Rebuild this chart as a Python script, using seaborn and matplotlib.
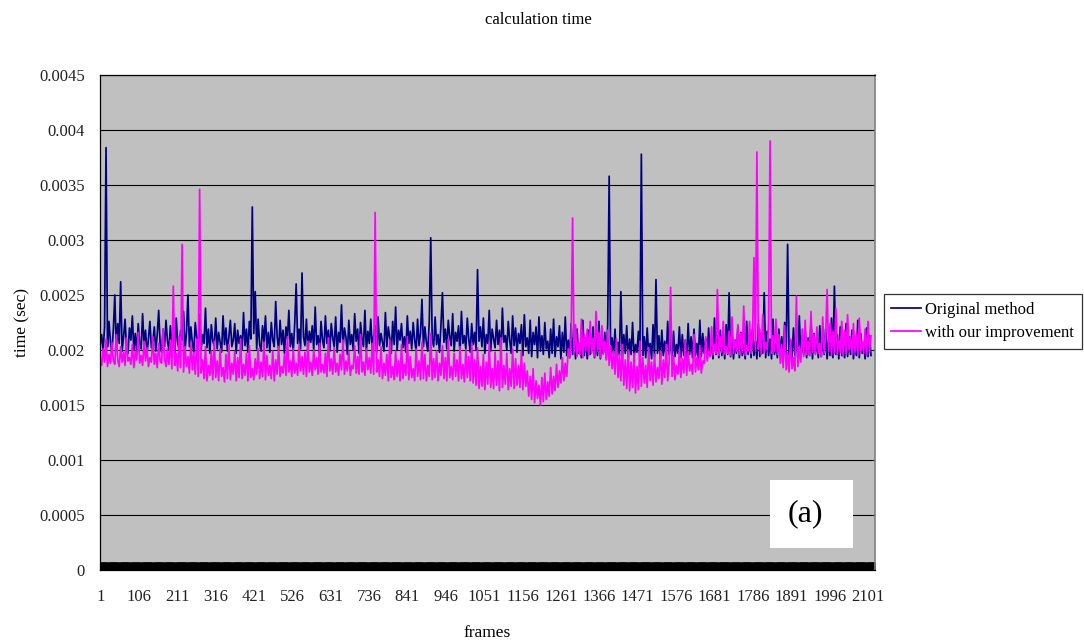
import numpy as np
import pandas as pd
import matplotlib
matplotlib.use("Agg")
import matplotlib.pyplot as plt
from matplotlib.patches import Rectangle
from matplotlib.ticker import FixedLocator, MultipleLocator, FuncFormatter
import seaborn as sns

# frame index (sampled every 4 frames) and times in units of 1e-5 sec
frames = np.arange(1, 2110, 4)

original = [
    205, 214, 199, 221, 384, 203, 226, 208, 197, 219, 250, 201, 224, 206, 262, 199,
    212, 228, 203, 197, 220, 209, 231, 200, 215, 198, 224, 206, 201, 233, 204, 218,
    197, 210, 226, 202, 207, 221, 199, 214, 236, 205, 198, 219, 203, 227, 208, 200,
    222, 204, 213, 197, 229, 206, 201, 218, 209, 235, 199, 216, 250, 203, 221, 207,
    198, 225, 211, 203, 232, 200, 214, 206, 238, 202, 219, 197, 223, 208, 204, 229,
    201, 216, 207, 198, 231, 205, 220, 199, 212, 227, 203, 209, 224, 197, 218, 206,
    213, 200, 234, 204, 219, 198, 226, 210, 330, 215, 253, 201, 228, 205, 199, 222,
    207, 231, 202, 216, 198, 225, 209, 203, 244, 212, 200, 227, 205, 218, 197, 221,
    210, 236, 203, 215, 199, 224, 260, 206, 219, 201, 270, 212, 204, 228, 198, 217,
    207, 222, 200, 239, 205, 213, 197, 226, 209, 202, 231, 206, 218, 199, 224, 211,
    203, 230, 198, 216, 207, 241, 201, 220, 212, 196, 227, 205, 214, 200, 233, 208,
    219, 197, 225, 210, 203, 236, 199, 217, 206, 228, 201, 213, 222, 198, 230, 204,
    215, 207, 199, 234, 203, 221, 211, 197, 226, 205, 239, 200, 218, 209, 224, 202,
    212, 198, 231, 206, 217, 201, 225, 209, 199, 228, 204, 215, 246, 203, 221, 207,
    199, 226, 302, 210, 203, 230, 205, 214, 198, 223, 252, 207, 219, 201, 227, 212,
    204, 233, 199, 216, 208, 222, 197, 235, 206, 213, 201, 229, 210, 198, 224, 205,
    216, 200, 273, 208, 221, 203, 229, 197, 214, 206, 236, 199, 219, 210, 202, 227,
    205, 218, 196, 238, 207, 213, 200, 226, 209, 197, 231, 204, 220, 198, 215, 206,
    223, 195, 232, 203, 211, 197, 227, 194, 216, 205, 221, 193, 230, 199, 213, 196,
    225, 201, 208, 193, 219, 197, 228, 194, 212, 203, 222, 192, 216, 198, 230, 195,
    209, 193, 224, 196, 214, 192, 219, 197, 206, 193, 227, 195, 211, 192, 218, 196,
    203, 221, 193, 212, 195, 226, 192, 208, 197, 216, 193, 223, 358, 194, 211, 196,
    219, 192, 207, 195, 253, 193, 214, 197, 222, 192, 210, 196, 225, 193, 205, 198,
    217, 192, 378, 195, 212, 193, 220, 196, 206, 192, 223, 194, 264, 197, 213, 192,
    218, 195, 208, 193, 226, 196, 211, 192, 217, 194, 205, 197, 221, 193, 214, 195,
    209, 192, 224, 196, 212, 193, 219, 195, 206, 192, 227, 194, 215, 197, 210, 193,
    220, 195, 207, 192, 229, 196, 213, 193, 218, 195, 211, 192, 223, 196, 252, 194,
    214, 192, 209, 197, 221, 193, 216, 195, 205, 192, 226, 196, 212, 193, 219, 195,
    208, 192, 224, 194, 213, 197, 252, 193, 217, 195, 210, 192, 228, 196, 206, 193,
    219, 195, 212, 192, 225, 194, 296, 196, 209, 193, 220, 195, 214, 192, 231, 194,
    207, 196, 218, 193, 211, 195, 226, 192, 215, 197, 208, 193, 222, 194, 213, 196,
    219, 192, 210, 195, 229, 193, 258, 196, 214, 192, 221, 195, 207, 193, 224, 194,
    212, 196, 218, 192, 209, 195, 227, 193, 215, 197, 206, 192, 220, 194, 213, 195,
]

improved = [
    192, 186, 201, 189, 210, 185, 196, 188, 207, 190, 187, 214, 191, 185, 203, 189,
    198, 186, 211, 190, 193, 187, 205, 184, 199, 191, 216, 188, 195, 186, 208, 190,
    202, 185, 193, 189, 212, 187, 197, 184, 206, 190, 188, 219, 192, 185, 201, 187,
    209, 183, 258, 186, 197, 181, 212, 184, 296, 180, 203, 185, 194, 179, 207, 182,
    198, 178, 210, 176, 346, 179, 191, 174, 203, 172, 186, 177, 199, 173, 208, 175,
    190, 172, 201, 176, 184, 171, 196, 174, 205, 173, 188, 178, 199, 172, 193, 175,
    210, 174, 187, 177, 197, 172, 204, 175, 183, 173, 192, 178, 201, 174, 189, 176,
    207, 173, 195, 177, 186, 174, 199, 172, 191, 178, 203, 176, 185, 179, 196, 177,
    212, 180, 190, 176, 201, 179, 188, 177, 205, 181, 194, 178, 198, 176, 208, 180,
    189, 177, 200, 182, 193, 178, 206, 180, 187, 179, 197, 176, 211, 181, 192, 178,
    202, 180, 188, 177, 196, 182, 209, 178, 190, 181, 199, 177, 186, 183, 204, 179,
    194, 178, 214, 180, 189, 177, 201, 182, 193, 179, 206, 178, 325, 180, 191, 176,
    203, 174, 188, 177, 196, 172, 209, 175, 185, 173, 199, 176, 190, 172, 205, 174,
    187, 177, 212, 173, 194, 175, 183, 172, 201, 176, 190, 173, 207, 174, 196, 172,
    186, 176, 215, 173, 192, 175, 199, 172, 188, 177, 204, 174, 193, 172, 210, 175,
    185, 173, 197, 176, 191, 172, 203, 174, 187, 171, 200, 175, 194, 172, 206, 170,
    191, 168, 202, 165, 185, 167, 196, 164, 189, 169, 207, 166, 183, 165, 198, 168,
    190, 163, 211, 166, 186, 169, 197, 164, 183, 167, 201, 165, 192, 168, 186, 166,
    199, 164, 188, 167, 181, 158, 176, 155, 183, 152, 172, 156, 168, 150, 175, 153,
    179, 155, 171, 158, 184, 160, 176, 163, 187, 166, 181, 170, 193, 172, 188, 176,
    201, 193, 212, 320, 198, 223, 194, 207, 196, 228, 193, 214, 199, 219, 195, 226,
    197, 211, 194, 235, 199, 216, 193, 222, 196, 208, 191, 218, 186, 204, 183, 199,
    178, 210, 175, 196, 172, 205, 168, 191, 165, 200, 163, 189, 166, 197, 161, 185,
    164, 208, 167, 193, 170, 186, 166, 202, 172, 189, 168, 196, 171, 184, 174, 199,
    169, 191, 175, 205, 172, 188, 257, 176, 195, 173, 186, 178, 201, 175, 192, 179,
    209, 177, 198, 181, 187, 178, 214, 180, 193, 182, 204, 179, 190, 188, 212, 190,
    199, 194, 221, 196, 205, 197, 255, 195, 212, 198, 226, 196, 203, 197, 217, 195,
    230, 197, 209, 199, 223, 196, 215, 198, 240, 195, 204, 199, 226, 197, 211, 284,
    199, 380, 201, 219, 196, 232, 198, 207, 200, 224, 390, 197, 213, 199, 228, 196,
    214, 188, 205, 184, 222, 182, 198, 180, 210, 183, 193, 181, 249, 185, 203, 189,
    219, 194, 227, 196, 208, 195, 235, 198, 214, 196, 221, 197, 206, 194, 230, 197,
    212, 255, 199, 224, 195, 217, 197, 238, 196, 209, 198, 226, 194, 218, 197, 232,
    200, 211, 196, 224, 198, 215, 195, 229, 199, 208, 197, 219, 195, 226, 198, 213,
]

series_names = ["Original method", "with our improvement"]
x_tick_labels = [str(v) for v in range(1, 2102, 105)]
y_ticks = [0, 0.0005, 0.001, 0.0015, 0.002, 0.0025, 0.003, 0.0035, 0.004, 0.0045]

df = pd.DataFrame({
    "frame": np.concatenate([frames, frames]),
    "time": np.array(original + improved) * 1e-5,
    "method": [series_names[0]] * len(original) + [series_names[1]] * len(improved),
})

plt.rcParams["font.family"] = ["Liberation Serif", "DejaVu Serif"]

fig = plt.figure(figsize=(10.84, 6.41), dpi=100)
ax = fig.add_axes([100 / 1084, 71 / 641, 775 / 1084, 495 / 641])
ax.set_facecolor("#C0C0C0")

sns.lineplot(data=df, x="frame", y="time", hue="method",
             palette={series_names[0]: "#000080", series_names[1]: "#FF00FF"},
             estimator=None, linewidth=1.25, ax=ax)

ax.set_xlim(0.5, 2120)
ax.set_ylim(0, 0.0045)
ax.xaxis.set_major_locator(FixedLocator([int(t) for t in x_tick_labels]))
ax.set_xticklabels(x_tick_labels)
ax.xaxis.set_minor_locator(MultipleLocator(3))
ax.set_yticks(y_ticks)
ax.yaxis.set_major_formatter(FuncFormatter(lambda v, p: f"{v:g}"))
ax.tick_params(axis="both", which="major", length=0, labelsize=12, colors="#222222")
ax.tick_params(axis="x", which="major", pad=14)
ax.tick_params(axis="y", which="major", pad=11)
ax.tick_params(axis="x", which="minor", direction="in", length=6, width=2.2, color="black")

ax.grid(axis="y", color="black", linewidth=0.8)
ax.set_axisbelow(True)
for s in ["left", "bottom", "top"]:
    ax.spines[s].set_color("black")
    ax.spines[s].set_linewidth(0.9)
ax.spines["right"].set_color("#808080")
ax.spines["right"].set_linewidth(1.2)

ax.set_xlabel("frames", fontsize=12.5, labelpad=14)
ax.set_ylabel("time (sec)", fontsize=12.5, labelpad=6)
fig.text(0.497, 1 - 20 / 641, "calculation time", ha="center", va="center", fontsize=12)

leg = ax.legend(loc="center left", bbox_to_anchor=(1.011, 0.502), frameon=True,
                fancybox=False, fontsize=12, handlelength=1.8, handletextpad=0.25,
                borderpad=0.45, labelspacing=0.45, borderaxespad=0)
leg.get_frame().set_edgecolor("black")
leg.get_frame().set_linewidth(0.9)
leg.set_title(None)

ax.add_patch(Rectangle((0.8645, 0.0444), 0.1071, 0.1374, transform=ax.transAxes,
                       facecolor="white", edgecolor="none", zorder=9))
ax.text(0.91, 0.1131, "(a)", transform=ax.transAxes, ha="center", va="center",
        fontsize=23, zorder=10)

fig.savefig("out.png", dpi=100)
